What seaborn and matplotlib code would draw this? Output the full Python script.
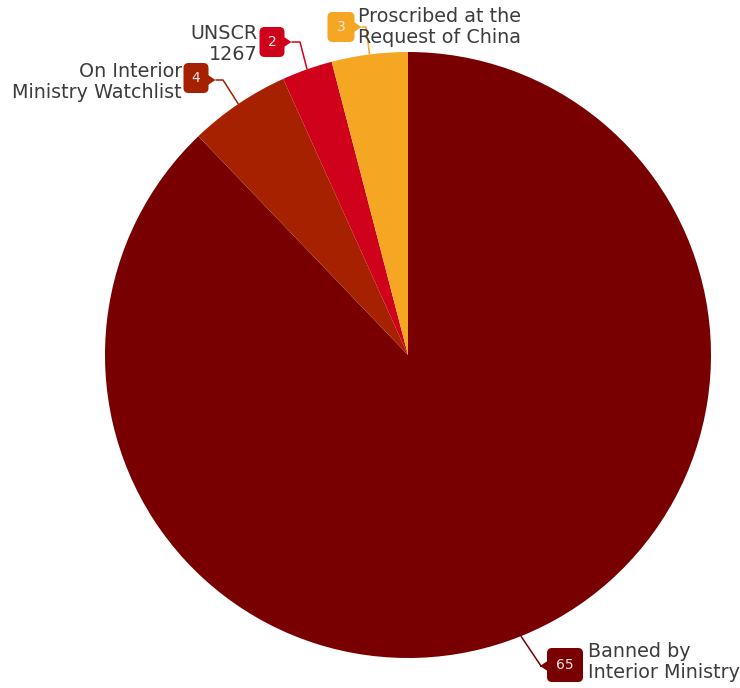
import numpy as np
import matplotlib
matplotlib.use("Agg")
import matplotlib.pyplot as plt
from matplotlib.patches import FancyBboxPatch, Polygon
import seaborn as sns

# Proscribed organisations by listing source
categories = ["Banned by\nInterior Ministry", "On Interior\nMinistry Watchlist",
              "UNSCR\n1267", "Proscribed at the\nRequest of China"]
counts = [65, 4, 2, 3]
hex_colors = ["#780000", "#a52100", "#d0021b", "#f5a623"]

sns.set_theme(style="white")
plt.rcParams["font.family"] = ["DejaVu Sans"]
palette = sns.color_palette(hex_colors)

W, H = 740, 688
fig = plt.figure(figsize=(W / 100, H / 100), dpi=100)
ax = fig.add_axes([0, 0, 1, 1])

cx, cy, r = 408, H - 355, 303
wedges, _ = ax.pie(counts, colors=palette, startangle=90, counterclock=False,
                   center=(cx, cy), radius=r, frame=True,
                   wedgeprops=dict(linewidth=0))
ax.set_xlim(0, W)
ax.set_ylim(0, H)
ax.set_aspect("equal")
ax.axis("off")

# callout layout: elbow point, badge centre, badge size, pointer side, text anchor
layout = [
    dict(elbow=(541, 666), badge=(565, 665), size=(36, 34), side="left",
         text=(588, 662), ha="left"),
    dict(elbow=(223, 80), badge=(196, 78), size=(25, 30), side="right",
         text=(182, 82), ha="right"),
    dict(elbow=(300, 42), badge=(272, 42), size=(25, 30), side="right",
         text=(258, 44), ha="right"),
    dict(elbow=(366, 27), badge=(341, 27), size=(27, 30), side="right",
         text=(358, 27), ha="left"),
]

for w, lab, val, col, lay in zip(wedges, categories, counts, palette, layout):
    mid = np.deg2rad((w.theta1 + w.theta2) / 2)
    sx, sy = cx + r * np.cos(mid), cy + r * np.sin(mid)
    ex, ey = lay["elbow"][0], H - lay["elbow"][1]
    bx, by = lay["badge"][0], H - lay["badge"][1]
    bw, bh = lay["size"]
    if lay["side"] == "left":
        edge = bx - bw / 2
        tip = edge - 7
        tri = [(edge + 2, ey + 6), (tip, ey), (edge + 2, ey - 6)]
    else:
        edge = bx + bw / 2
        tip = edge + 7
        tri = [(edge - 2, ey + 6), (tip, ey), (edge - 2, ey - 6)]
    ax.plot([sx, ex, tip], [sy, ey, ey], color=col, lw=1.1,
            solid_capstyle="butt", zorder=3)
    ax.add_patch(FancyBboxPatch((bx - bw / 2 + 5, by - bh / 2 + 5), bw - 10, bh - 10,
                                boxstyle="round,pad=5", facecolor=col,
                                edgecolor="none", zorder=4))
    ax.add_patch(Polygon(tri, closed=True, facecolor=col, edgecolor="none",
                         zorder=4))
    ax.text(bx, by, str(val), color="#f3e4e4", fontsize=10, ha="center",
            va="center", zorder=5)
    tx, ty = lay["text"][0], H - lay["text"][1]
    ax.text(tx, ty, lab, color="#3c3c3c", fontsize=13.8, ha=lay["ha"],
            va="center", linespacing=1.1, zorder=5)

fig.savefig("out.png", dpi=100)
